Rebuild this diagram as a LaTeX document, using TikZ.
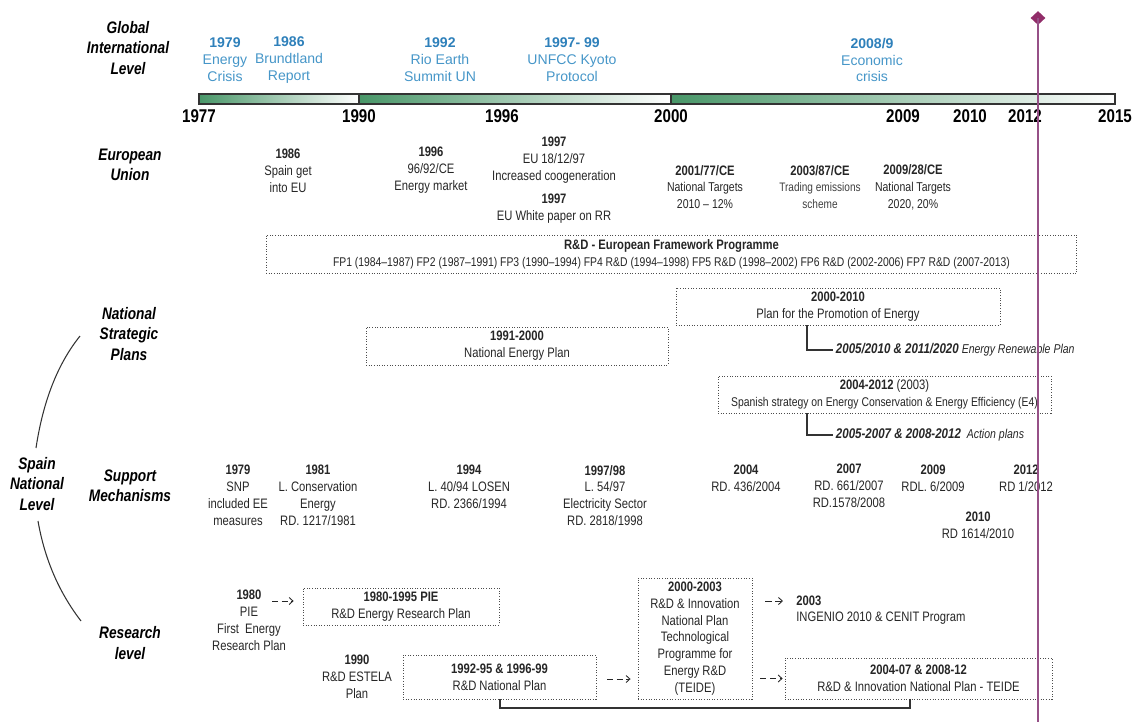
\documentclass[tikz,border=0pt]{standalone}
\usepackage{fontspec}
\setmainfont[FakeStretch=0.82]{Liberation Sans}
\newfontfamily\widefont{Liberation Sans}
\usetikzlibrary{shapes.geometric,arrows.meta}
\definecolor{barGreen}{RGB}{72,150,104}
\definecolor{intYear}{RGB}{46,128,186}
\definecolor{intText}{RGB}{70,150,200}
\definecolor{nowPlum}{RGB}{145,45,105}
\definecolor{nowLine}{RGB}{150,80,135}
\newcommand\iyr[1]{\textbf{\color{intYear}#1}}
\newcommand\subb[1]{{\fontsize{8}{9}\selectfont\bfseries #1}}
\newcommand\dyr[1]{{\fontsize{7.8}{9.6}\selectfont\bfseries #1}}
\tikzset{
  lvl/.style={align=center,inner sep=0,font=\fontsize{9.5}{11.5}\selectfont\bfseries\itshape},
  intl/.style={align=center,inner sep=0,text=intText,font=\widefont\fontsize{8}{9.6}\selectfont},
  yr/.style={inner sep=0,font=\fontsize{10.5}{12}\selectfont\bfseries},
  txt/.style={align=center,inner sep=0,text=black!85,font=\fontsize{7.8}{9.6}\selectfont},
  dir/.style={txt,font=\fontsize{7.3}{9.6}\selectfont},
  plan/.style={txt,draw=black!70,densely dotted,line width=0.5pt},
  sub/.style={txt,anchor=west,inner sep=1.5pt,font=\fontsize{7.3}{9}\selectfont\itshape},
  link/.style={black!80,line width=0.6pt},
  dasharr/.style={black!85,line width=0.5pt,dash pattern=on 3.5pt off 2pt,-{Straight Barb[length=2.2pt,width=4pt]}}
}
\begin{document}
\begin{tikzpicture}[x=0.02cm,y=-0.02cm]
\useasboundingbox (0,0) rectangle (1137,724);

\foreach \a/\b in {199/359,359/671,671/1115}{
  \shade[left color=barGreen,right color=white] (\a,94) rectangle (\b,104);
  \draw[black!80,line width=0.6pt] (\a,94) rectangle (\b,104);
}
\foreach \x/\t in {199/1977,359/1990,502/1996,671/2000,903/2009,970/2010,1025/2012,1115/2015}
  \node[yr] (y\t) at (\x,116) {\t};

\node[lvl] (global) at (128,48) {Global\\International\\Level};
\node[lvl] (eu) at (130,165) {European\\Union};
\node[lvl] (nsp) at (129,334) {National\\Strategic\\Plans};
\node[lvl] (spain) at (37,484) {Spain\\National\\Level};
\node[lvl] (support) at (130,486) {Support\\Mechanisms};
\node[lvl] (research) at (130,643) {Research\\level};

\draw[link] (80,336) .. controls (54.6,367.7) and (42.1,407.8) .. (36,448);
\draw[link] (38,521) .. controls (44.4,557.8) and (58.2,591.3) .. (81,621);

\node[intl] (crisis79) at (225,60) {\iyr{1979}\\Energy\\Crisis};
\node[intl] (brund) at (289,60) {\iyr{1986}\\Brundtland\\Report};
\node[intl] (rio) at (440,60) {\iyr{1992}\\Rio Earth\\Summit UN};
\node[intl] (kyoto) at (572,60) {\iyr{1997- 99}\\UNFCC Kyoto\\Protocol};
\node[intl] (crisis08) at (872,60) {\iyr{2008/9}\\Economic\\crisis};

\node[txt] (spEU) at (288,171) {\textbf{1986}\\Spain get\\into EU};
\node[txt] (market) at (431,170) {\textbf{1996}\\96/92/CE\\Energy market};
\node[txt] (coge) at (554,160) {\textbf{1997}\\EU 18/12/97\\Increased coogeneration};
\node[txt] (white) at (554,208.5) {\textbf{1997}\\EU White paper on RR};
\node[dir] (dir01) at (705,187) {\dyr{2001/77/CE}\\National Targets\\2010 – 12\%};
\node[dir] (dir03) at (820,187) {\dyr{2003/87/CE}\\{\fontsize{7}{9.6}\selectfont\color{black!75}Trading emissions}\\{\fontsize{7}{9.6}\selectfont\color{black!75}scheme}};
\node[dir] (dir09) at (913,187) {\dyr{2009/28/CE}\\National Targets\\2020, 20\%};
\node[plan,minimum width=16.22cm,minimum height=0.76cm] (fp) at (671.5,254)
  {\textbf{R\&D - European Framework Programme}\\{\fontsize{7.2}{9.6}\selectfont FP1 (1984–1987) FP2 (1987–1991) FP3 (1990–1994) FP4 R\&D (1994–1998) FP5 R\&D (1998–2002) FP6 R\&D (2002-2006) FP7 R\&D (2007-2013)}};

\node[plan,minimum width=6.48cm,minimum height=0.74cm] (ppe) at (838,306.5) {\textbf{2000-2010}\\Plan for the Promotion of Energy};
\node[plan,minimum width=6.04cm,minimum height=0.76cm] (nep) at (517,346) {\textbf{1991-2000}\\National Energy Plan};
\node[plan,minimum width=6.66cm,minimum height=0.74cm] (e4) at (884.5,394.5)
  {\textbf{2004-2012} (2003)\\{\fontsize{7.2}{9.6}\selectfont Spanish strategy on Energy Conservation \& Energy Efficiency (E4)}};
\node[sub] (ren) at (833,350) {\subb{2005/2010 \& 2011/2020} Energy Renewable Plan};
\node[sub] (act) at (833,435) {\subb{2005-2007 \& 2008-2012}~ Action plans};
\coordinate (ren0) at (807,350);
\coordinate (act0) at (807,435);
\draw[link] (ppe.south -| ren0) -- (ren0) -- (ren.west);
\draw[link] (e4.south -| act0) -- (act0) -- (act.west);

\node[txt] (snp) at (238,495) {\textbf{1979}\\SNP\\included EE\\measures};
\node[txt] (cons) at (318,495) {\textbf{1981}\\L. Conservation\\Energy\\RD. 1217/1981};
\node[txt] (losen) at (469,487) {\textbf{1994}\\L. 40/94 LOSEN\\RD. 2366/1994};
\node[txt] (elec) at (605,495.5) {\textbf{1997/98}\\L. 54/97\\Electricity Sector\\RD. 2818/1998};
\node[txt] (rd04) at (746,478.5) {\textbf{2004}\\RD. 436/2004};
\node[txt] (rd07) at (849,485.5) {\textbf{2007}\\RD. 661/2007\\RD.1578/2008};
\node[txt] (rd09) at (933,478.5) {\textbf{2009}\\RDL. 6/2009};
\node[txt] (rd12) at (1026,478.5) {\textbf{2012}\\RD 1/2012};
\node[txt] (rd10) at (978,525.5) {\textbf{2010}\\RD 1614/2010};

\node[txt] (pie80) at (249,620) {\textbf{1980}\\PIE\\First~ Energy\\Research Plan};
\node[txt] (estela) at (357,677) {\textbf{1990}\\R\&D ESTELA\\Plan};
\node[plan,minimum width=3.92cm,minimum height=0.74cm] (pie) at (401,606.5) {\textbf{1980-1995 PIE}\\R\&D Energy Research Plan};
\node[plan,minimum width=3.86cm,minimum height=0.88cm] (rdn) at (499.5,677) {\textbf{1992-95 \& 1996-99}\\R\&D National Plan};
\node[plan,minimum width=2.28cm,minimum height=2.42cm] (inn) at (695,638.5)
  {\textbf{2000-2003}\\R\&D \& Innovation\\National Plan\\Technological\\Programme for\\Energy R\&D\\(TEIDE)};
\node[plan,minimum width=5.34cm,minimum height=0.82cm] (teide) at (918.5,678.5) {\textbf{2004-07 \& 2008-12}\\R\&D \& Innovation National Plan - TEIDE};
\node[txt,anchor=west] (y03) at (796,601) {\textbf{2003}};
\node[txt,anchor=west] (ingenio) at (796,618) {INGENIO 2010 \& CENIT Program};

\coordinate (a80) at (272,601);
\coordinate (a92) at (607,679);
\draw[dasharr,shorten >=5.1pt] (a80) -- (pie.west |- a80);
\draw[dasharr,shorten >=4pt] (a92) -- (inn.west |- a92);
\draw[dasharr,shorten <=7.4pt,shorten >=7.4pt] (inn.east |- y03.west) -- (y03.west);
\draw[dasharr,shorten <=4.5pt,shorten >=1.1pt] (inn.east |- teide.west) -- (teide.west);
\coordinate (brl) at (500,708);
\coordinate (brr) at (910,708);
\draw[link] (rdn.south -| brl) -- (brl) -- (brr) -- (teide.south -| brr);

\node[diamond,fill=nowPlum,inner sep=0,minimum width=0.3cm,minimum height=0.28cm] (now) at (1038,18) {};
\coordinate (nowEnd) at (1038,722);
\draw[nowLine,line width=0.6pt] (now.center) -- (nowEnd);
\end{tikzpicture}
\end{document}
